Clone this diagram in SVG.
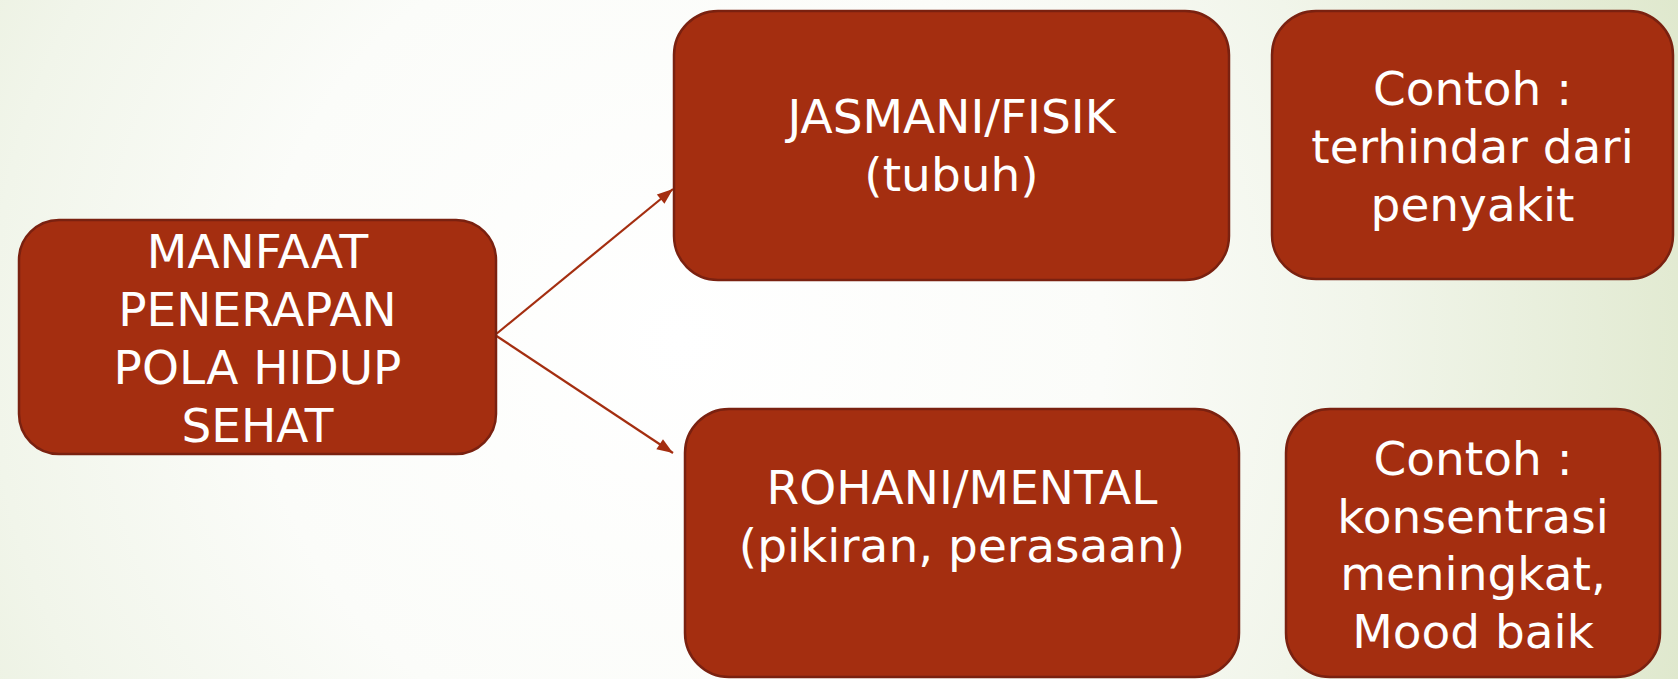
<svg xmlns="http://www.w3.org/2000/svg" width="1678" height="679" viewBox="0 0 1678 679">
  <defs>
    <radialGradient id="bg" cx="680" cy="340" r="1060" gradientUnits="userSpaceOnUse">
      <stop offset="0" stop-color="#ffffff"/>
      <stop offset="0.4" stop-color="#fbfcf9"/>
      <stop offset="0.65" stop-color="#f1f5ea"/>
      <stop offset="1" stop-color="#dfe8cd"/>
    </radialGradient>
    <marker id="arrow" viewBox="0 0 16 12" refX="16" refY="6" markerWidth="16" markerHeight="12" markerUnits="userSpaceOnUse" orient="auto" overflow="visible">
      <path d="M0,0 L16,6 L0,12 z" fill="#a42e10"/>
    </marker>
    <style>
      .box { fill: #a42e10; stroke: #7a2110; stroke-width: 2.5; }
      .lbl { fill: #ffffff; font-family: "DejaVu Sans", "Liberation Sans", sans-serif; font-size: 47px; text-anchor: middle; }
      .conn { stroke: #a42e10; stroke-width: 2.2; fill: none; }
    </style>
  </defs>
  <rect x="0" y="0" width="1678" height="679" fill="url(#bg)"/>

  <g id="connectors">
    <line class="conn" x1="495" y1="335" x2="673" y2="189" marker-end="url(#arrow)"/>
    <line class="conn" x1="495" y1="335" x2="673" y2="453" marker-end="url(#arrow)"/>
  </g>

  <g id="node-manfaat">
    <rect class="box" x="19" y="220" width="477" height="234" rx="40" ry="40"/>
    <text class="lbl" x="257.5" y="268">MANFAAT</text>
    <text class="lbl" x="257.5" y="326">PENERAPAN</text>
    <text class="lbl" x="257.5" y="384">POLA HIDUP</text>
    <text class="lbl" x="257.5" y="442">SEHAT</text>
  </g>

  <g id="node-jasmani">
    <rect class="box" x="674" y="11" width="555" height="269" rx="44" ry="44"/>
    <text class="lbl" x="951.5" y="133">JASMANI/FISIK</text>
    <text class="lbl" x="951.5" y="191">(tubuh)</text>
  </g>

  <g id="node-contoh1">
    <rect class="box" x="1272" y="11" width="401" height="268" rx="44" ry="44"/>
    <text class="lbl" x="1472.5" y="105">Contoh :</text>
    <text class="lbl" x="1472.5" y="163">terhindar dari</text>
    <text class="lbl" x="1472.5" y="221">penyakit</text>
  </g>

  <g id="node-rohani">
    <rect class="box" x="685" y="409" width="554" height="268" rx="44" ry="44"/>
    <text class="lbl" x="962" y="504">ROHANI/MENTAL</text>
    <text class="lbl" x="962" y="562">(pikiran, perasaan)</text>
  </g>

  <g id="node-contoh2">
    <rect class="box" x="1286" y="409" width="374" height="268" rx="44" ry="44"/>
    <text class="lbl" x="1473" y="475">Contoh :</text>
    <text class="lbl" x="1473" y="533">konsentrasi</text>
    <text class="lbl" x="1473" y="590">meningkat,</text>
    <text class="lbl" x="1473" y="648">Mood baik</text>
  </g>
</svg>
